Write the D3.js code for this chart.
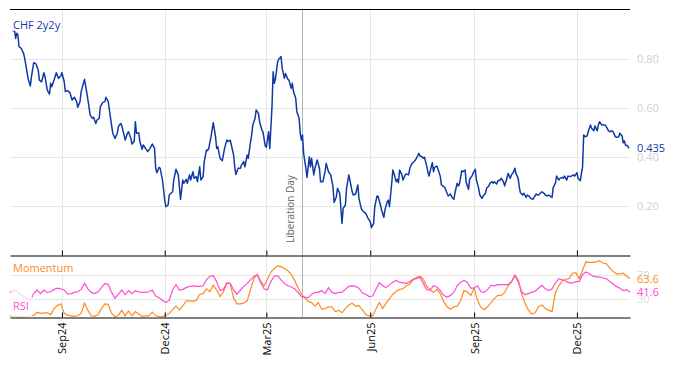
<!DOCTYPE html>
<html>
<head>
<meta charset="utf-8">
<script src="https://cdn.jsdelivr.net/npm/d3@7"></script>
<style>
body { margin: 0; background: #fff; }
text { font-family: "Open Sans", "Noto Sans", sans-serif; }
</style>
</head>
<body>
<div id="chart"></div>
<script>
var width = 674;
var height = 366;
const LINE_COLOR = "#0f3aa5";
const MOM_COLOR = "#ff8a1f";
const RSI_COLOR = "#ff4bd6";
const GRID_COLOR = "#e6e6e6";

// data: CHF 2y2y as [days since start, value]
var startDay = "2024-07-17";
var endDay = "2026-01-17";
var eventDay = "2025-04-02";
var eventName = "Liberation Day";
var chf2y2y = [
[2,.915],[4,.918],[5,.884],[6,.905],[7,.898],[8,.850],[10,.843],[12,.823],[13,.803],[14,.776],[16,.721],[18,.690],[19,.728],[21,.785],[23,.780],[25,.755],[26,.714],[28,.707],[30,.744],[31,.728],[33,.673],[35,.657],[36,.701],[37,.687],[39,.714],[41,.744],[43,.721],[45,.731],[46,.744],[48,.707],[49,.667],[51,.671],[53,.663],[55,.633],[57,.644],[59,.626],[60,.603],[62,.626],[63,.667],[66,.717],[68,.663],[69,.633],[71,.571],[73,.558],[74,.562],[76,.537],[77,.551],[79,.558],[80,.605],[82,.622],[84,.626],[85,.644],[87,.626],[88,.592],[90,.527],[91,.497],[93,.476],[95,.497],[96,.524],[98,.537],[99,.527],[101,.490],[102,.469],[104,.497],[105,.503],[107,.476],[108,.453],[110,.463],[111,.544],[112,.497],[114,.499],[115,.463],[117,.431],[118,.449],[120,.435],[121,.429],[122,.422],[124,.435],[126,.453],[128,.435],[129,.354],[130,.336],[132,.358],[133,.354],[135,.306],[137,.224],[138,.197],[140,.204],[141,.245],[143,.254],[144,.258],[145,.306],[147,.350],[149,.327],[150,.279],[151,.227],[153,.306],[154,.293],[156,.309],[157,.293],[159,.327],[160,.306],[162,.340],[163,.313],[165,.320],[166,.299],[168,.360],[169,.306],[171,.320],[172,.381],[174,.429],[175,.426],[176,.435],[178,.483],[180,.540],[182,.483],[183,.435],[184,.442],[186,.395],[188,.385],[190,.435],[192,.469],[193,.463],[195,.469],[196,.449],[198,.408],[199,.360],[200,.329],[202,.354],[204,.354],[205,.367],[207,.381],[208,.360],[210,.408],[211,.395],[213,.463],[214,.490],[215,.531],[217,.558],[218,.592],[220,.578],[221,.544],[223,.510],[224,.503],[226,.445],[227,.440],[229,.503],[230,.435],[232,.605],[233,.748],[234,.701],[235,.717],[237,.789],[238,.799],[240,.810],[241,.762],[243,.721],[244,.741],[246,.717],[247,.714],[249,.680],[250,.701],[251,.667],[253,.640],[254,.585],[256,.558],[257,.497],[258,.469],[259,.490],[260,.415],[262,.354],[263,.317],[265,.401],[266,.360],[267,.395],[269,.327],[270,.354],[272,.388],[274,.354],[275,.299],[277,.299],[279,.340],[280,.374],[282,.340],[284,.327],[286,.279],[287,.214],[289,.238],[290,.272],[292,.252],[294,.129],[295,.190],[297,.204],[298,.272],[300,.327],[301,.306],[303,.258],[304,.245],[306,.249],[308,.286],[309,.231],[311,.190],[313,.177],[315,.170],[317,.150],[319,.136],[320,.112],[322,.129],[323,.197],[325,.241],[326,.238],[328,.204],[329,.184],[331,.154],[332,.184],[334,.218],[335,.224],[336,.197],[338,.293],[339,.347],[340,.333],[342,.299],[343,.309],[344,.295],[345,.347],[347,.327],[348,.306],[350,.327],[351,.331],[353,.327],[354,.354],[356,.374],[357,.377],[359,.388],[360,.395],[362,.415],[363,.404],[365,.401],[366,.395],[367,.399],[369,.363],[370,.340],[371,.322],[373,.360],[374,.377],[375,.340],[376,.358],[378,.363],[379,.350],[381,.322],[382,.286],[384,.279],[385,.276],[387,.252],[388,.241],[390,.249],[391,.238],[393,.227],[394,.254],[396,.293],[397,.282],[398,.290],[400,.344],[401,.340],[403,.347],[404,.295],[406,.268],[407,.309],[409,.322],[410,.333],[412,.350],[413,.306],[415,.272],[416,.245],[418,.231],[419,.241],[421,.252],[422,.272],[424,.282],[425,.293],[427,.299],[428,.293],[429,.299],[431,.290],[432,.303],[434,.306],[435,.313],[437,.299],[438,.282],[440,.313],[441,.333],[443,.313],[444,.327],[446,.340],[447,.354],[448,.333],[450,.313],[451,.276],[452,.254],[454,.245],[455,.252],[457,.235],[458,.245],[460,.238],[461,.231],[463,.227],[464,.235],[466,.249],[467,.245],[468,.245],[470,.254],[471,.258],[473,.252],[474,.245],[476,.241],[477,.245],[479,.238],[480,.235],[481,.276],[483,.293],[484,.322],[486,.306],[487,.313],[489,.317],[490,.313],[491,.322],[493,.306],[494,.322],[496,.320],[497,.322],[499,.327],[500,.322],[502,.336],[503,.313],[505,.303],[506,.333],[507,.360],[508,.490],[509,.483],[511,.486],[512,.503],[514,.531],[515,.517],[517,.507],[518,.527],[520,.507],[521,.531],[522,.544],[524,.531],[525,.531],[527,.531],[528,.524],[530,.507],[531,.503],[533,.507],[534,.503],[536,.483],[537,.480],[539,.483],[540,.497],[542,.486],[543,.458],[544,.466],[545,.449],[547,.445],[548,.435]
];

// momentum and RSI, one value every 3 days from startDay
var stepDays = 3;
var momentum = [1,2,1,0.5,0.5,1,2,3,8,6, 7,7,4,14,19,22,6,3,2,1, 2,6,23,11,2,1,4,14,22,21,
  6,0.5,3,11,2,10,2,9,5,1, 2,2,8,2,1,0.5,2,6,12,18, 12,18,27,27,26,28,38,39,47,42,
  53,45,34,42,57,56,31,22,22,23, 27,46,64,71,60,52,63,75,81,85, 84,81,77,71,61,49,38,32,26,24,
  18,24,13,14,17,17,9,11,
  7,14,20,23,18,19,12,4,2,2, 13,24,14,23,30,38,43,46,47,52, 55,62,66,68,63,51,45,41,46,39,
  26,17,13,17,18,27,44,42,36,48, 28,16,12,17,24,31,36,36,41,52, 58,70,62,39,23,12,5,7,17,20,
  14,11,9,41,52,60,63,64,73,74, 64,78,92,91,91,92,94,90,89,82, 76,72,72,73,68,63.6];
var rsi = [41,44,43,38,34,31,28,39,45,39, 45,41,42,46,48,47,45,38,39,41, 42,46,56,47,41,39,42,49,56,54,
  41,31,38,45,37,44,39,44,42,41, 41,42,45,35,32,28,24,28,45,54, 45,46,49,51,52,51,51,52,62,68,
  69,59,44,46,56,56,45,38,45,51, 56,62,68,70,57,47,45,59,68,69, 62,56,52,50,47,41,34,33,32,38,
  41,41,44,39,49,41,39,41,
  41,46,51,52,51,48,40,38,34,35, 46,57,52,49,54,58,61,58,57,56, 59,63,64,66,56,45,45,52,50,44,
  36,33,36,41,52,58,61,58,48,48, 52,42,41,46,53,52,54,54,54,54, 59,69,59,42,37,39,41,43,48,53,
  47,44,47,57,64,62,60,57,57,59, 59,71,75,72,68,67,67,65,64,59, 55,51,48,44,45,41.6];

var mainTicks = [0.2, 0.4, 0.6, 0.8];
var subTicks = [30, 70];

var svg = d3
  .select("#chart")
  .append("svg")
  .attr("width", width)
  .attr("height", height);

var parse = d3.timeParse("%Y-%m-%d");
var start = parse(startDay);

var x = d3.scaleTime()
  .domain([start, parse(endDay)])
  .range([10, 630]);
var y = d3.scaleLinear().domain([0, 1]).range([255, 10]);
var y2 = d3.scaleLinear().domain([0, 100]).range([317, 257]);

var quarterTicks = d3.timeMonth.range(start, parse(endDay))
  .filter(function(d) { return d.getMonth() % 3 === 2; });

var chfData = chf2y2y.map(function(d) {
  return { date: d3.timeDay.offset(start, d[0]), value: d[1] };
});
function bySteps(arr) {
  return arr.map(function(v, i) {
    return { date: d3.timeDay.offset(start, i * stepDays), value: v };
  });
}
var momData = bySteps(momentum);
var rsiData = bySteps(rsi);

// gridlines
var grid = svg.append("g").attr("stroke", GRID_COLOR).attr("stroke-width", 1);
grid.selectAll(".vg").data(quarterTicks).enter().append("line")
  .attr("x1", function(d) { return Math.round(x(d)) + 0.5; })
  .attr("x2", function(d) { return Math.round(x(d)) + 0.5; })
  .attr("y1", 9).attr("y2", 317);
grid.selectAll(".hg").data(mainTicks).enter().append("line")
  .attr("x1", 10).attr("x2", 630)
  .attr("y1", function(d) { return Math.round(y(d)) + 0.5; })
  .attr("y2", function(d) { return Math.round(y(d)) + 0.5; });
grid.selectAll(".hg2").data(subTicks).enter().append("line")
  .attr("x1", 10).attr("x2", 630)
  .attr("y1", function(d) { return Math.round(y2(d)) + 0.5; })
  .attr("y2", function(d) { return Math.round(y2(d)) + 0.5; });

// event line
var ex = Math.round(x(parse(eventDay))) + 0.5;
svg.append("line")
  .attr("x1", ex).attr("x2", ex).attr("y1", 9).attr("y2", 317)
  .attr("stroke", "#b4b4b4");
svg.append("text")
  .attr("transform", "translate(" + (ex - 9) + ",243) rotate(-90)")
  .attr("font-size", 10)
  .attr("fill", "#666")
  .text(eventName);

// y labels
svg.selectAll(".yl").data(mainTicks).enter().append("text")
  .attr("x", 637).attr("y", function(d) { return y(d); })
  .attr("dy", "0.35em").attr("font-size", 11).attr("fill", "#d0d0d0")
  .text(d3.format(".2f"));
svg.selectAll(".yl2").data(subTicks).enter().append("text")
  .attr("x", 637).attr("y", function(d) { return y2(d); })
  .attr("dy", "0.35em").attr("font-size", 11).attr("fill", "#dcdcdc")
  .text(function(d) { return d; });

// lines
var line = d3.line().x(function(d) { return x(d.date); }).y(function(d) { return y(d.value); });
var line2 = d3.line().x(function(d) { return x(d.date); }).y(function(d) { return y2(d.value); });

svg.append("path").datum(momData).attr("d", line2)
  .attr("fill", "none").attr("stroke", MOM_COLOR).attr("stroke-width", 1.2);
svg.append("path").datum(rsiData).attr("d", line2)
  .attr("fill", "none").attr("stroke", RSI_COLOR).attr("stroke-width", 1.2);
svg.append("path").datum(chfData).attr("d", line)
  .attr("fill", "none").attr("stroke", LINE_COLOR).attr("stroke-width", 1.5)
  .attr("stroke-linejoin", "round");

// legend boxes and labels
svg.append("rect").attr("x", 11).attr("y", 17).attr("width", 50).attr("height", 14)
  .attr("fill", "#fff").attr("opacity", 0.8);
svg.append("rect").attr("x", 11).attr("y", 259).attr("width", 64).attr("height", 16)
  .attr("fill", "#fff").attr("opacity", 0.75);
svg.append("rect").attr("x", 11).attr("y", 289).attr("width", 21).attr("height", 28)
  .attr("fill", "#fff").attr("opacity", 0.75);
svg.append("text").attr("x", 13).attr("y", 29).attr("font-size", 11)
  .attr("fill", LINE_COLOR).text("CHF 2y2y");
svg.append("text").attr("x", 13).attr("y", 272).attr("font-size", 11)
  .attr("fill", MOM_COLOR).text("Momentum");
svg.append("text").attr("x", 13).attr("y", 310).attr("font-size", 11)
  .attr("fill", RSI_COLOR).text("RSI");

// last values
var lastChf = chfData[chfData.length - 1].value;
var lastMom = momentum[momentum.length - 1];
var lastRsi = rsi[rsi.length - 1];
svg.append("text").attr("x", 637).attr("y", y(lastChf)).attr("dy", "0.35em")
  .attr("font-size", 11).attr("fill", LINE_COLOR).text(d3.format(".3f")(lastChf));
svg.append("text").attr("x", 637).attr("y", y2(lastMom)).attr("dy", "0.35em")
  .attr("font-size", 11).attr("fill", MOM_COLOR).text(d3.format(".1f")(lastMom));
svg.append("text").attr("x", 637).attr("y", y2(lastRsi)).attr("dy", "0.35em")
  .attr("font-size", 11).attr("fill", RSI_COLOR).text(d3.format(".1f")(lastRsi));

// frame lines and axes
svg.append("line").attr("x1", 10).attr("x2", 630).attr("y1", 9.5).attr("y2", 9.5)
  .attr("stroke", "#000");

var axisTop = d3.axisBottom(x).tickValues(quarterTicks).tickSizeInner(-5).tickSizeOuter(0).tickFormat("");
svg.append("g").attr("transform", "translate(0,255.5)").call(axisTop)
  .call(function(g) { g.selectAll("line, path").attr("stroke", "#000"); });

var axisBot = d3.axisBottom(x).tickValues(quarterTicks).tickSizeInner(-5).tickSizeOuter(0)
  .tickFormat(d3.timeFormat("%b%y"));
svg.append("g").attr("transform", "translate(0,317.5)").call(axisBot)
  .call(function(g) {
    g.selectAll("line, path").attr("stroke", "#000");
    g.selectAll("text")
      .attr("font-size", 11)
      .attr("font-family", "'Open Sans', 'Noto Sans', sans-serif")
      .attr("fill", "#000")
      .attr("text-anchor", "end")
      .attr("transform", "rotate(-90)")
      .attr("x", -5)
      .attr("y", 0)
      .attr("dy", "0.35em");
  });
</script>
</body>
</html>
